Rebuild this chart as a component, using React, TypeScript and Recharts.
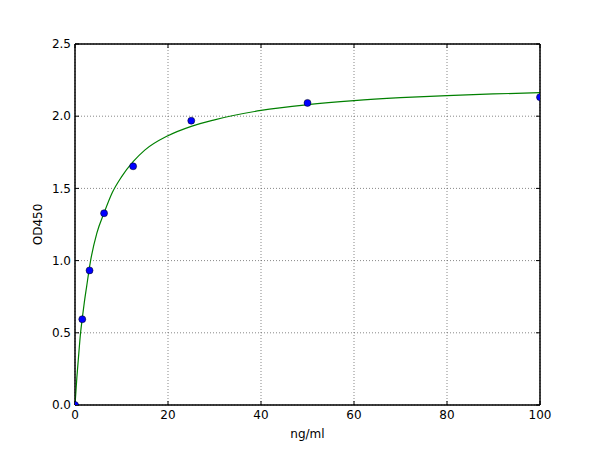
import React from 'react';
import { ComposedChart, Line, Scatter, XAxis, YAxis, CartesianGrid, Label, ReferenceArea } from 'recharts';

// standards (ng/ml) and measured OD450
const concentrations = [0, 1.5625, 3.125, 6.25, 12.5, 25, 50, 100];
const odValues = [0.0, 0.594, 0.932, 1.328, 1.653, 1.969, 2.092, 2.132];

// fitted curve
const curveX = [0, 0.4, 0.7, 1.2, 1.5625, 2, 2.5, 3.3, 4.7, 6.25, 8, 10, 12.5, 15, 20, 25, 30, 40, 50, 60, 70, 80, 90, 100];
const curveY = [0, 0.19, 0.31, 0.5, 0.6, 0.71, 0.82, 0.99, 1.19, 1.33, 1.47, 1.58, 1.685, 1.765, 1.865, 1.93, 1.975, 2.04, 2.08, 2.108, 2.128, 2.143, 2.154, 2.163];

const xTicks = [0, 20, 40, 60, 80, 100];
const yTicks = [0, 0.5, 1.0, 1.5, 2.0, 2.5];

const points = concentrations.map((x, i) => ({ x, y: odValues[i] }));
const curve = curveX.map((x, i) => ({ x, y: curveY[i] }));

const font = { fontFamily: 'DejaVu Sans', fontSize: 12, fill: '#000' };
const blank = () => '';

const Dot = (props: any) => (
  <circle cx={props.cx} cy={props.cy} r={3.5} fill="#0000ff" stroke="#000" strokeWidth={0.5} />
);

const App: React.FC = () => {
  return (
    <div style={{ position: 'absolute', left: 0, top: 0, width: 600, height: 450, background: '#fff' }}>
      <ComposedChart width={600} height={450} margin={{ top: 43, right: 59, bottom: 0, left: 0 }}>
        <CartesianGrid stroke="#555" strokeWidth={0.7} strokeDasharray="1 2" />
        <XAxis
          type="number"
          dataKey="x"
          domain={[0, 100]}
          ticks={xTicks}
          allowDataOverflow
          height={45}
          stroke="#000"
          tickSize={-4}
          tickMargin={9}
          tick={font}
        >
          <Label value="ng/ml" position="insideBottom" offset={12} style={font} />
        </XAxis>
        <XAxis
          xAxisId="top"
          type="number"
          dataKey="x"
          orientation="top"
          domain={[0, 100]}
          ticks={xTicks}
          allowDataOverflow
          height={1}
          stroke="#000"
          tickSize={-4}
          tickMargin={0}
          tickFormatter={blank}
        />
        <YAxis
          type="number"
          domain={[0, 2.5]}
          ticks={yTicks}
          allowDataOverflow
          width={75}
          stroke="#000"
          tickSize={-4}
          tickMargin={8}
          tick={font}
          tickFormatter={(v: number) => v.toFixed(1)}
        >
          <Label
            content={({ viewBox }: any) => (
              <text
                x={viewBox.x + 38}
                y={viewBox.y + viewBox.height / 2}
                transform={`rotate(-90, ${viewBox.x + 38}, ${viewBox.y + viewBox.height / 2})`}
                textAnchor="middle"
                dominantBaseline="central"
                style={font}
              >
                OD450
              </text>
            )}
          />
        </YAxis>
        <YAxis
          yAxisId="right"
          type="number"
          orientation="right"
          domain={[0, 2.5]}
          ticks={yTicks}
          allowDataOverflow
          width={1}
          stroke="#000"
          tickSize={-4}
          tickMargin={0}
          tickFormatter={blank}
        />
        <ReferenceArea x1={0} x2={100} y1={0} y2={2.5} fill="none" stroke="#000" strokeWidth={1} ifOverflow="visible" />
        <Scatter
          data={points}
          dataKey="y"
          xAxisId="top"
          yAxisId="right"
          shape={<Dot />}
          isAnimationActive={false}
        />
        <Line
          data={curve}
          dataKey="y"
          type="monotone"
          stroke="#008000"
          strokeWidth={1.2}
          dot={false}
          activeDot={false}
          isAnimationActive={false}
        />
      </ComposedChart>
    </div>
  );
};

export default App;
